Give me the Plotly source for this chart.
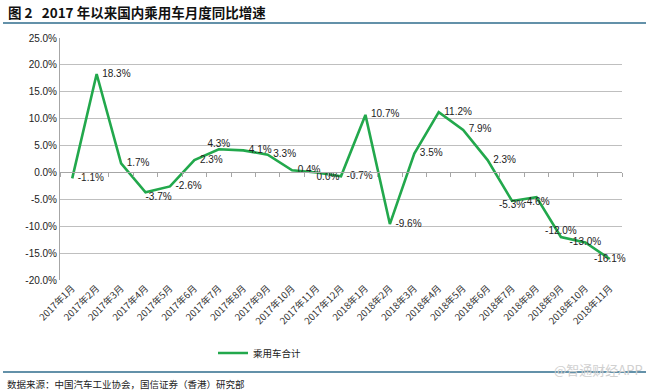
import plotly.graph_objects as go
import numpy as np

months = ["2017年1月", "2017年2月", "2017年3月", "2017年4月", "2017年5月", "2017年6月",
          "2017年7月", "2017年8月", "2017年9月", "2017年10月", "2017年11月", "2017年12月",
          "2018年1月", "2018年2月", "2018年3月", "2018年4月", "2018年5月", "2018年6月",
          "2018年7月", "2018年8月", "2018年9月", "2018年10月", "2018年11月"]
growth = [-1.1, 18.3, 1.7, -3.7, -2.6, 2.3, 4.3, 4.1, 3.3, 0.4, 0.0, -0.7,
          10.7, -9.6, 3.5, 11.2, 7.9, 2.3, -5.3, -4.6, -12.0, -13.0, -16.1]
series_name = "乘用车合计"
y_ticks = [-20, -15, -10, -5, 0, 5, 10, 15, 20, 25]
y_tick_labels = [f"{v:.1f}%" for v in y_ticks]

label_pos = ["middle right"] * len(growth)
label_pos[3] = "bottom right"
label_pos[6] = "top center"
label_pos[10] = "bottom right"
label_pos[18] = "bottom center"
label_pos[19] = "bottom center"
label_pos[20] = "top center"
label_pos[21] = "middle center"
label_pos[22] = "middle center"
labels = [("  " if p == "middle right" else "") + f"{v:.1f}%" for v, p in zip(growth, label_pos)]

ymin, ymax = -20, 25
n = len(months)
L, R, T, B = 60, 27, 38, 112
PW, PH = 649 - L - R, 392 - T - B


def px(x):
    return (x - L) / PW


def py(y):
    return (392 - B - y) / PH


fig = go.Figure()
fig.add_trace(go.Scatter(
    x=months, y=growth, name=series_name, mode="lines+text",
    line=dict(color="#22A84C", width=2.6),
    text=labels, textposition=label_pos,
    textfont=dict(family="Liberation Sans", size=10, color="#222222"),
    cliponaxis=False,
))
fig.add_trace(go.Scatter(x=[-0.5, n - 0.5], y=[0, 0], xaxis="x2", mode="lines",
                         line=dict(width=0), showlegend=False, hoverinfo="skip"))

fig.update_layout(
    width=649, height=392,
    margin=dict(l=L, r=R, t=T, b=B, autoexpand=False),
    paper_bgcolor="white", plot_bgcolor="white",
    font=dict(family="Liberation Sans", color="#222222"),
    showlegend=True,
    legend=dict(orientation="h", x=px(213), xanchor="left",
                y=py(353), yanchor="middle",
                font=dict(family="Noto Sans CJK SC", size=9.5, color="#222222"),
                bgcolor="rgba(0,0,0,0)"),
    xaxis=dict(type="category", range=[-0.5, n - 0.5], showline=False, showgrid=False,
               ticks="", tickangle=-45, zeroline=False, automargin=False,
               tickfont=dict(family="Noto Sans CJK SC", size=9.5, color="#333333")),
    xaxis2=dict(overlaying="x", anchor="free", position=(0 - ymin) / (ymax - ymin),
                range=[-0.5, n - 0.5], showline=True, linecolor="#A6A6A6", linewidth=1,
                tickmode="array", tickvals=list(np.arange(n + 1) - 0.5),
                ticks="outside", ticklen=4, tickcolor="#A6A6A6", showticklabels=False,
                showgrid=False, zeroline=False, automargin=False),
    yaxis=dict(range=[ymin, ymax], tickmode="array", tickvals=y_ticks, ticktext=y_tick_labels,
               showgrid=True, gridcolor="#BFBFBF", gridwidth=1, zeroline=False,
               showline=True, linecolor="#A6A6A6", linewidth=1, ticks="", automargin=False,
               tickfont=dict(family="Liberation Sans", size=10, color="#222222")),
)

fig.add_annotation(text="<b>图 2   2017 年以来国内乘用车月度同比增速</b>", xref="paper", yref="paper",
                   x=px(6), y=py(12), xanchor="left", yanchor="middle",
                   showarrow=False, font=dict(family="Noto Sans CJK SC", size=13.5, color="#111111"))
fig.add_shape(type="line", xref="paper", yref="paper",
              x0=px(3), x1=px(646), y0=py(23), y1=py(23),
              line=dict(color="#2F6D8C", width=1.5))
fig.add_shape(type="line", xref="paper", yref="paper",
              x0=px(3), x1=px(646), y0=py(372), y1=py(372),
              line=dict(color="#2F6D8C", width=1.5))
fig.add_annotation(text="数据来源：中国汽车工业协会，国信证券（香港）研究部", xref="paper", yref="paper",
                   x=px(5), y=py(384), xanchor="left", yanchor="middle",
                   showarrow=False, font=dict(family="Noto Sans CJK SC", size=9.5, color="#222222"))
fig.add_annotation(text="@智通财经APP", xref="paper", yref="paper",
                   x=px(645), y=py(370), xanchor="right", yanchor="middle",
                   showarrow=False, font=dict(family="Noto Sans CJK SC", size=13, color="#D0D0D0"))

fig.write_html("out.html", config={"displayModeBar": False},
               post_script="document.body.style.margin='0';document.body.style.overflow='hidden';")
